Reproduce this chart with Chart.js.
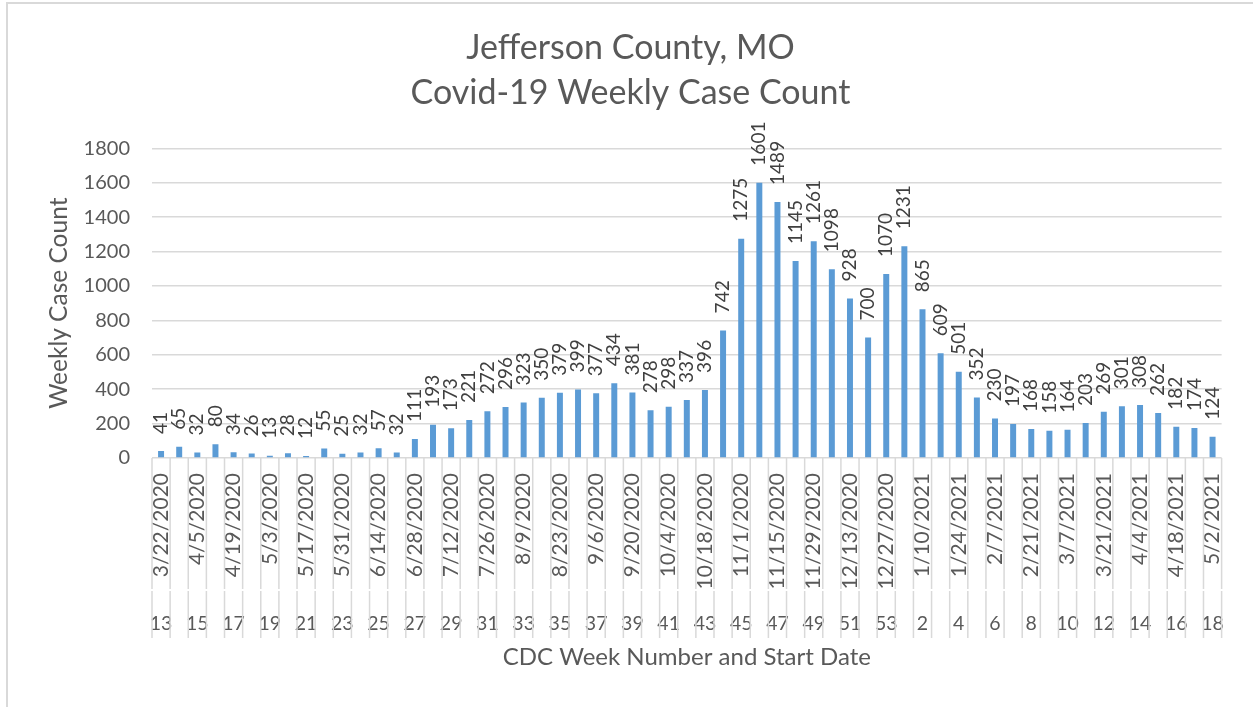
<!DOCTYPE html>
<html>
<head>
<meta charset="utf-8">
<script src="https://cdn.jsdelivr.net/npm/chart.js@4/dist/chart.umd.min.js"></script>
<style>
  html, body { margin: 0; padding: 0; background: #fff; overflow: hidden; }
  #frame { position: absolute; left: 6px; top: 2px; width: 1400px; height: 900px; border: 2px solid #d9d9d9; }
  #chart { position: absolute; left: 0; top: 0; }
</style>
</head>
<body>
<div id="frame"></div>
<canvas id="chart" width="1253" height="707"></canvas>
<script>
// Jefferson County weekly case counts, CDC week 13 (2020) .. week 18 (2021)
const weekNumbers = [
  '13', '14', '15', '16', '17', '18', '19', '20', '21', '22', '23', '24', '25', '26', '27', '28',
  '29', '30', '31', '32', '33', '34', '35', '36', '37', '38', '39', '40', '41', '42', '43', '44',
  '45', '46', '47', '48', '49', '50', '51', '52', '53',
  '1', '2', '3', '4', '5', '6', '7', '8', '9', '10', '11', '12', '13', '14', '15', '16', '17', '18'
];

const startDates = [
  '3/22/2020', '3/29/2020', '4/5/2020', '4/12/2020', '4/19/2020', '4/26/2020', '5/3/2020', '5/10/2020',
  '5/17/2020', '5/24/2020', '5/31/2020', '6/7/2020', '6/14/2020', '6/21/2020', '6/28/2020', '7/5/2020',
  '7/12/2020', '7/19/2020', '7/26/2020', '8/2/2020', '8/9/2020', '8/16/2020', '8/23/2020', '8/30/2020',
  '9/6/2020', '9/13/2020', '9/20/2020', '9/27/2020', '10/4/2020', '10/11/2020', '10/18/2020', '10/25/2020',
  '11/1/2020', '11/8/2020', '11/15/2020', '11/22/2020', '11/29/2020', '12/6/2020', '12/13/2020', '12/20/2020',
  '12/27/2020',
  '1/3/2021', '1/10/2021', '1/17/2021', '1/24/2021', '1/31/2021', '2/7/2021', '2/14/2021', '2/21/2021',
  '2/28/2021', '3/7/2021', '3/14/2021', '3/21/2021', '3/28/2021', '4/4/2021', '4/11/2021', '4/18/2021',
  '4/25/2021', '5/2/2021'
];

const weeklyCases = [
  41, 65, 32, 80, 34, 26, 13, 28, 12, 55, 25, 32, 57, 32, 111, 193,
  173, 221, 272, 296, 323, 350, 379, 399, 377, 434, 381, 278, 298, 337, 396, 742,
  1275, 1601, 1489, 1145, 1261, 1098, 928, 700, 1070, 1231,
  865, 609, 501, 352, 230, 197, 168, 158, 164, 203, 269, 301, 308, 262, 182, 174, 124
];

const yTicks = [0, 200, 400, 600, 800, 1000, 1200, 1400, 1600, 1800];

const FONT = 'Lato, "Open Sans", sans-serif';
const TEXT = '#595959';
const LINE = '#d9d9d9';

// value labels above bars, rotated like the Excel "outside end" labels
const barLabels = {
  id: 'barLabels',
  afterDatasetsDraw(chart) {
    const ctx = chart.ctx;
    const meta = chart.getDatasetMeta(0);
    ctx.save();
    ctx.font = '19px ' + FONT;
    ctx.fillStyle = '#404040';
    ctx.textAlign = 'left';
    ctx.textBaseline = 'middle';
    meta.data.forEach((bar, i) => {
      ctx.save();
      ctx.translate(bar.x, bar.y - 17);
      ctx.rotate(-Math.PI / 2);
      ctx.fillText(String(weeklyCases[i]), 0, 0);
      ctx.restore();
    });
    ctx.restore();
  }
};

// category separators through both label rows
const categoryDividers = {
  id: 'categoryDividers',
  afterDraw(chart) {
    const xs = chart.scales.x;
    const x2 = chart.scales.x2;
    const n = startDates.length;
    const step = xs.width / n;
    const ctx = chart.ctx;
    ctx.save();
    ctx.strokeStyle = LINE;
    ctx.lineWidth = 1.5;
    for (let i = 0; i <= n; i++) {
      const x = xs.left + i * step;
      ctx.beginPath();
      ctx.moveTo(x, xs.top);
      ctx.lineTo(x, xs.bottom - 1);
      ctx.moveTo(x, x2.top + 1);
      ctx.lineTo(x, x2.top + 48);
      ctx.stroke();
    }
    ctx.restore();
  }
};

new Chart(document.getElementById('chart'), {
  type: 'bar',
  data: {
    labels: startDates,
    datasets: [{
      label: 'Weekly Case Count',
      data: weeklyCases,
      backgroundColor: '#5b9bd5',
      borderWidth: 0,
      barPercentage: 0.33,
      categoryPercentage: 1
    }]
  },
  options: {
    responsive: false,
    animation: false,
    layout: { padding: { top: 0, left: 36, right: 28, bottom: 10 } },
    plugins: {
      legend: { display: false },
      tooltip: { enabled: false },
      title: {
        display: true,
        text: ['Jefferson County, MO', 'Covid-19 Weekly Case Count'],
        color: TEXT,
        font: { family: FONT, size: 34, weight: 'normal', lineHeight: 1.33 },
        padding: { top: 25, bottom: 33 }
      }
    },
    scales: {
      y: {
        min: 0,
        max: 1800,
        afterBuildTicks: s => { s.ticks = yTicks.map(v => ({ value: v })); },
        afterFit: s => { s.width = 116; },
        border: { display: false },
        grid: { color: LINE, lineWidth: 1.5, drawTicks: false },
        ticks: {
          color: TEXT,
          font: { family: FONT, size: 20 },
          padding: 22,
          callback: v => String(v)
        },
        title: {
          display: true,
          text: 'Weekly Case Count',
          color: TEXT,
          font: { family: FONT, size: 24.5 },
          padding: { top: 8, bottom: 0 }
        }
      },
      x: {
        weight: 0,
        offset: true,
        afterFit: s => { s.height = 132; },
        border: { display: false },
        grid: { display: false, drawTicks: false },
        ticks: {
          autoSkip: false,
          minRotation: 90,
          maxRotation: 90,
          padding: 15,
          color: TEXT,
          font: { family: FONT, size: 21 },
          callback: (v, i) => (i % 2 === 0 ? startDates[i] : '')
        }
      },
      x2: {
        type: 'category',
        position: 'bottom',
        weight: 1,
        labels: weekNumbers,
        offset: true,
        afterFit: s => { s.height = 107; },
        border: { display: false },
        grid: { display: false, drawTicks: false },
        ticks: {
          autoSkip: false,
          maxRotation: 0,
          padding: 22,
          color: TEXT,
          font: { family: FONT, size: 19.5 },
          callback: (v, i) => (i % 2 === 0 ? weekNumbers[i] : '')
        },
        title: {
          display: true,
          text: 'CDC Week Number and Start Date',
          color: TEXT,
          font: { family: FONT, size: 24 },
          padding: { top: 0, bottom: 25 }
        }
      }
    }
  },
  plugins: [barLabels, categoryDividers]
});
</script>
</body>
</html>
